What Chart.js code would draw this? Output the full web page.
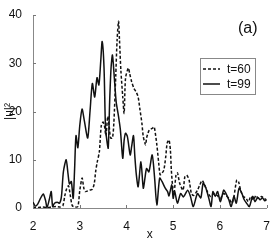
<!DOCTYPE html>
<html><head><meta charset="utf-8">
<script src="https://cdn.jsdelivr.net/npm/chart.js@4/dist/chart.umd.min.js"></script>
<style>html,body{margin:0;padding:0;background:#fff}canvas{display:block}</style>
</head><body>
<canvas id="c" width="273" height="240"></canvas>
<script>
const xTicks = [2, 3, 4, 5, 6, 7];
const yTicks = [0, 10, 20, 30, 40];
const t99x = [2.00,2.05,2.10,2.16,2.22,2.27,2.30,2.35,2.39,2.42,2.46,2.52,2.57,2.61,2.65,2.71,2.75,2.78,2.82,2.86,2.89,2.92,2.96,3.00,3.05,3.10,3.17,3.22,3.27,3.32,3.37,3.41,3.45,3.48,3.52,3.55,3.58,3.61,3.64,3.67,3.70,3.74,3.78,3.83,3.87,3.92,3.95,3.98,4.02,4.08,4.11,4.15,4.18,4.21,4.25,4.31,4.36,4.40,4.43,4.48,4.55,4.60,4.65,4.71,4.76,4.83,4.88,4.91,4.97,5.00,5.03,5.09,5.16,5.22,5.31,5.37,5.43,5.52,5.59,5.64,5.69,5.76,5.81,5.85,5.90,5.95,6.01,6.08,6.13,6.19,6.24,6.30,6.35,6.41,6.47,6.52,6.57,6.63,6.70,6.75,6.81,6.86,6.91,6.96,7.00];
const t99y = [1.2,0.4,0.8,2.0,2.9,1.5,0.1,1.8,3.4,0.3,1.0,1.2,1.0,2.5,7.5,10.0,7.0,5.0,5.5,2.0,8.0,15.0,12.5,17.0,20.5,18.0,14.5,20.0,25.8,23.0,27.0,25.5,30.5,34.5,29.0,17.0,14.0,12.4,22.0,29.0,31.7,27.0,22.0,19.0,16.2,10.3,14.0,15.5,14.8,11.0,12.7,15.0,10.6,7.0,4.4,9.6,4.1,6.5,8.2,7.5,11.0,6.5,0.6,6.2,5.5,4.1,3.4,2.5,4.8,2.0,3.5,1.0,3.0,2.3,3.7,2.4,0.3,3.0,2.1,5.1,4.4,2.1,0.3,3.4,2.4,3.4,1.3,3.7,3.0,1.7,0.3,2.4,1.0,4.1,3.0,1.7,1.0,0.3,2.4,1.3,2.2,1.7,2.1,1.5,1.7];
const t60x = [2.00,2.10,2.20,2.30,2.40,2.50,2.58,2.64,2.68,2.72,2.76,2.80,2.84,2.90,2.96,3.00,3.05,3.09,3.12,3.21,3.27,3.31,3.34,3.37,3.42,3.46,3.50,3.53,3.56,3.60,3.63,3.66,3.70,3.73,3.77,3.80,3.83,3.85,3.88,3.92,3.95,3.98,4.04,4.07,4.11,4.16,4.21,4.25,4.29,4.33,4.36,4.41,4.43,4.46,4.49,4.55,4.59,4.61,4.65,4.69,4.72,4.76,4.80,4.84,4.87,4.91,4.94,4.96,4.99,5.02,5.06,5.09,5.14,5.21,5.25,5.29,5.34,5.39,5.44,5.52,5.57,5.62,5.67,5.73,5.80,5.87,5.94,6.01,6.08,6.13,6.19,6.26,6.30,6.36,6.40,6.45,6.50,6.56,6.61,6.66,6.72,6.77,6.82,6.89,6.94,7.00];
const t60y = [0.2,0.1,0.2,0.1,0.2,0.3,0.2,0.5,2.5,4.0,4.6,2.5,0.5,0.2,0.3,3.5,6.2,4.0,3.4,3.7,3.9,5.0,7.5,9.3,11.7,17.0,17.8,17.0,15.0,19.0,17.0,14.5,14.5,17.6,27.2,34.9,38.7,35.0,28.6,23.1,19.6,26.9,29.0,27.8,26.2,24.8,24.0,23.0,20.3,17.6,14.8,13.1,14.5,15.5,16.2,16.5,16.8,16.0,13.1,9.3,6.9,7.2,7.9,10.6,13.4,14.1,12.0,7.9,4.4,3.4,6.8,7.3,5.1,3.7,6.5,6.8,5.8,3.0,2.6,3.7,4.8,5.7,4.8,3.4,2.4,3.0,2.6,2.0,3.0,2.6,2.0,1.0,2.4,5.8,5.4,3.4,2.4,2.0,1.3,2.4,1.7,2.6,2.0,2.4,2.0,1.7];
const seriesLabels = ['t=60', 't=99'];
const panelLabel = '(a)';

const pts = (xs, ys) => xs.map((x, i) => ({x, y: ys[i]}));
const FONT = 'Liberation Sans, Arial, sans-serif';

const extras = {
  id: 'extras',
  afterDraw(chart) {
    const ctx = chart.ctx, xs = chart.scales.x, ys = chart.scales.y;
    const a = chart.chartArea;
    ctx.save();
    ctx.strokeStyle = '#777'; ctx.lineWidth = 1;
    xTicks.forEach(v => { const p = Math.round(xs.getPixelForValue(v)) + 0.5; ctx.beginPath(); ctx.moveTo(p, a.bottom); ctx.lineTo(p, a.bottom - 3); ctx.stroke(); });
    yTicks.forEach(v => { const p = Math.round(ys.getPixelForValue(v)) + 0.5; ctx.beginPath(); ctx.moveTo(a.left, p); ctx.lineTo(a.left + 3, p); ctx.stroke(); });
    ctx.fillStyle = '#111';
    ctx.font = '16px ' + FONT;
    ctx.textBaseline = 'middle'; ctx.textAlign = 'left';
    ctx.fillText(panelLabel, 238, 29);
    const bx = 200.5, by = 58.5, bw = 55, bh = 36;
    ctx.fillStyle = '#fff'; ctx.fillRect(bx, by, bw, bh);
    ctx.strokeStyle = '#888'; ctx.lineWidth = 1; ctx.strokeRect(bx, by, bw, bh);
    const rows = [{y: 69, dash: [3, 2]}, {y: 84, dash: []}];
    ctx.font = '12px ' + FONT;
    rows.forEach((r, i) => {
      ctx.strokeStyle = '#111'; ctx.lineWidth = 1.5; ctx.setLineDash(r.dash);
      ctx.beginPath(); ctx.moveTo(203, r.y); ctx.lineTo(220, r.y); ctx.stroke();
      ctx.setLineDash([]);
      ctx.fillStyle = '#111';
      ctx.fillText(seriesLabels[i], 227, r.y + 1);
    });
    ctx.restore();
  }
};

new Chart(document.getElementById('c'), {
  type: 'line',
  data: {
    datasets: [
      {label: seriesLabels[0], data: pts(t60x, t60y), borderColor: '#111', borderWidth: 1.5, borderDash: [3, 2], pointRadius: 0, tension: 0.25, fill: false},
      {label: seriesLabels[1], data: pts(t99x, t99y), borderColor: '#111', borderWidth: 1.5, pointRadius: 0, tension: 0.25, fill: false}
    ]
  },
  options: {
    responsive: false, animation: false,
    layout: {padding: {top: 15, right: 3, left: 0, bottom: 0}},
    plugins: {legend: {display: false}, tooltip: {enabled: false}},
    scales: {
      x: {
        type: 'linear', min: 2, max: 7,
        afterBuildTicks: s => { s.ticks = xTicks.map(v => ({value: v})); },
        grid: {display: false}, border: {display: true, color: '#888', width: 1},
        ticks: {color: '#111', font: {size: 12, family: FONT}, padding: 3, maxRotation: 0},
        title: {display: true, text: 'x', color: '#111', font: {size: 12, family: FONT}, padding: {top: 0, bottom: -2}},
        afterFit: s => { s.height = 32; }
      },
      y: {
        min: 0, max: 40,
        afterBuildTicks: s => { s.ticks = yTicks.map(v => ({value: v})); },
        grid: {display: false}, border: {display: true, color: '#888', width: 1},
        ticks: {color: '#111', font: {size: 12, family: FONT}, padding: 3},
        title: {display: true, text: '|u|²', color: '#111', font: {size: 12, family: FONT}, padding: {top: 2, bottom: 0}},
        afterFit: s => { s.width = 33; }
      }
    }
  },
  plugins: [extras]
});
</script>
</body></html>
